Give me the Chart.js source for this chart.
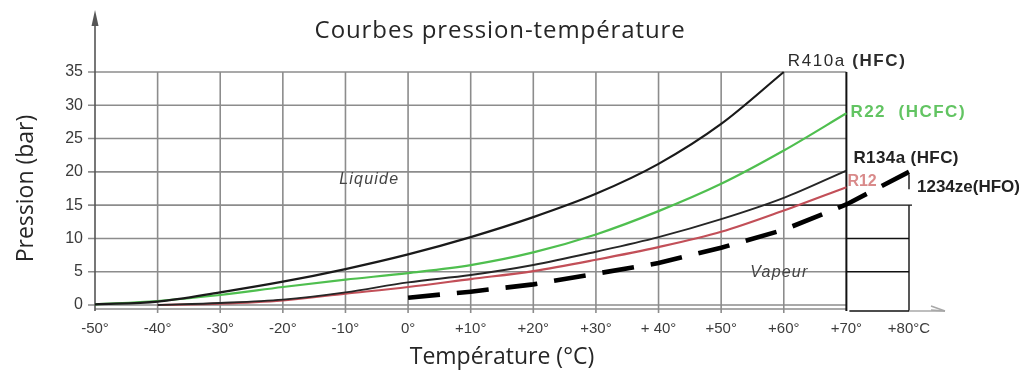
<!DOCTYPE html>
<html lang="fr">
<head>
  <meta charset="UTF-8">
  <title>Courbes pression-température</title>
  <script src="https://cdn.jsdelivr.net/npm/chart.js"></script>
  <style>
    html, body { margin: 0; padding: 0; background: #fff; }
    #wrap { width: 1026px; height: 380px; }
  </style>
</head>
<body>
  <div id="wrap"><canvas id="graphique" width="1026" height="380"></canvas></div>

  <script>
    // axe des températures (°C)
    const temperatures = [-50, -40, -30, -20, -10, 0, 10, 20, 30, 40, 50, 60, 70, 80];
    const xTickLabels = ['-50°', '-40°', '-30°', '-20°', '-10°', '0°', '+10°', '+20°', '+30°', '+ 40°', '+50°', '+60°', '+70°', '+80°C'];
    const gridTemps = [-40, -30, -20, -10, 0, 10, 20, 30, 40, 50, 60];
    const pressureTicks = [0, 5, 10, 15, 20, 25, 30, 35];

    // pressions (bar)
    const r410a   = [0.1, 0.5, 1.9, 3.5, 5.4, 7.6, 10.2, 13.2, 16.7, 21.2, 27.2, 35.0, null, null];
    const r22     = [0.1, 0.6, 1.5, 2.7, 3.8, 4.8, 6.0, 7.9, 10.6, 14.1, 18.2, 23.2, 28.8, null];
    const r134a   = [null, 0.0, 0.3, 0.8, 1.9, 3.4, 4.5, 6.0, 8.0, 10.2, 12.9, 16.1, 20.2, null];
    const r12     = [null, 0.0, 0.2, 0.7, 1.7, 2.7, 3.9, 5.1, 6.8, 8.7, 11.0, 14.2, 17.7, null];
    const r1234ze = [null, null, null, null, null, 1.1, 2.0, 3.1, 4.7, 6.3, 8.6, 11.3, 15.1, 20.0];

    function points(values) {
      return temperatures.map((t, i) => ({ x: t, y: values[i] })).filter(p => p.y !== null);
    }

    const labelFont = '"Liberation Sans", Arial, sans-serif';
    const titleFont = '"Open Sans", sans-serif';

    const decor = {
      id: 'decor',
      beforeDatasetsDraw(chart) {
        const { ctx, scales: { x, y } } = chart;
        const X = v => x.getPixelForValue(v), Y = v => y.getPixelForValue(v);
        const seg = (x1, y1, x2, y2) => { ctx.beginPath(); ctx.moveTo(x1, y1); ctx.lineTo(x2, y2); ctx.stroke(); };
        ctx.save();

        // quadrillage gris
        ctx.strokeStyle = '#8c8c8c';
        ctx.lineWidth = 1.6;
        gridTemps.forEach(t => seg(X(t), Y(35), X(t), Y(0) + 8));
        pressureTicks.forEach(p => seg(X(-50) - 7, Y(p), X(70), Y(p)));
        seg(X(-50), Y(0) + 4, X(70), Y(0) + 4);

        // cadre noir 70-80 °C
        ctx.strokeStyle = '#111';
        ctx.lineWidth = 2;
        seg(X(70), Y(35), X(70), Y(0) + 6);
        ctx.lineWidth = 1.4;
        seg(X(80), Y(15), X(80), Y(0) + 6);
        seg(X(80), Y(19.6), X(80), Y(17.4));
        seg(X(57), Y(15), X(80) + 3, Y(15));
        [10, 5].forEach(p => seg(X(70), Y(p), X(80), Y(p)));
        seg(X(70) + 3, Y(0) + 6, X(80), Y(0) + 6);

        // flèche de l'axe x
        ctx.strokeStyle = '#a8a8a8';
        ctx.lineWidth = 1.5;
        seg(X(80), Y(0) + 6, X(80) + 36, Y(0) + 6);
        seg(X(80) + 22, Y(0) + 1, X(80) + 36, Y(0) + 6);
        seg(X(80) + 22, Y(0) + 5, X(80) + 36, Y(0) + 6);

        // axe y avec flèche
        ctx.strokeStyle = '#555';
        ctx.lineWidth = 1.6;
        seg(X(-50), Y(0) + 6, X(-50), 16);
        ctx.fillStyle = '#555';
        ctx.beginPath();
        ctx.moveTo(X(-50), 10);
        ctx.lineTo(X(-50) - 3.5, 26);
        ctx.lineTo(X(-50) + 3.5, 26);
        ctx.closePath();
        ctx.fill();
        ctx.restore();
      },
      afterDraw(chart) {
        const { ctx, scales: { x, y } } = chart;
        const X = v => x.getPixelForValue(v), Y = v => y.getPixelForValue(v);
        const end = i => { const d = chart.getDatasetMeta(i).data; return d[d.length - 1]; };
        const spacing = s => { if ('letterSpacing' in ctx) ctx.letterSpacing = s + 'px'; };
        const two = (a, b, px, py, color, fa, fb, ls) => {
          spacing(ls);
          ctx.fillStyle = color;
          ctx.font = fa;
          ctx.fillText(a, px, py);
          const w = ctx.measureText(a).width;
          ctx.font = fb;
          ctx.fillText(b, px + w, py);
        };
        ctx.save();
        ctx.textBaseline = 'middle';

        // titre
        spacing(0.9);
        ctx.fillStyle = '#262626';
        ctx.font = '24px ' + titleFont;
        ctx.textAlign = 'center';
        ctx.fillText('Courbes pression-température', X(14.7), 31);
        ctx.textAlign = 'left';

        const b17 = 'bold 17px ' + labelFont;
        let p = end(0);
        two('R410a ', '(HFC)', p.x + 4, p.y - 11, '#2b2b2b', '17px ' + labelFont, b17, 1.6);
        p = end(1);
        two('R22  ', '(HCFC)', p.x + 4, p.y - 1, '#62c462', b17, b17, 1.5);
        p = end(2);
        two('R134a ', '(HFC)', p.x + 7, p.y - 12, '#222', b17, b17, 0.4);
        p = end(3);
        two('R12', '', p.x + 1, p.y - 6, '#d98a8a', 'bold 16px ' + labelFont, b17, 0);
        p = end(4);
        two('1234ze(HFO)', '', p.x + 8, p.y + 15, '#222', b17, b17, 0);

        // zones
        spacing(1.2);
        ctx.fillStyle = '#444';
        ctx.font = 'italic 16px ' + labelFont;
        ctx.textAlign = 'center';
        ctx.fillText('Liquide', X(-6.2), Y(18.8));
        ctx.fillText('Vapeur', X(59.3), Y(4.8));
        spacing(0);
        ctx.restore();
      }
    };

    const ctx = document.getElementById('graphique').getContext('2d');
    const courbe = (label, values, color, width) => ({
      label: label,
      data: points(values),
      borderColor: color,
      borderWidth: width,
      pointRadius: 0,
      cubicInterpolationMode: 'monotone',
      fill: false,
      clip: false
    });

    const graphique = new Chart(ctx, {
      type: 'line',
      data: {
        datasets: [
          courbe('R410a (HFC)', r410a, '#1a1a1a', 2.2),
          courbe('R22 (HCFC)', r22, '#4fbf4f', 2.2),
          courbe('R134a (HFC)', r134a, '#262626', 1.9),
          courbe('R12', r12, '#c24f58', 2.2),
          Object.assign(courbe('1234ze(HFO)', r1234ze, '#000', 4.6), { borderDash: [32, 17], cubicInterpolationMode: 'default', tension: 0 })
        ]
      },
      options: {
        responsive: false,
        animation: false,
        devicePixelRatio: 1,
        layout: { padding: { top: 72, right: 117, bottom: 0, left: 0 } },
        plugins: {
          legend: { display: false },
          tooltip: { enabled: false },
          title: { display: false }
        },
        scales: {
          x: {
            type: 'linear',
            min: -50,
            max: 80,
            grid: { display: false, drawTicks: false },
            border: { display: false },
            afterFit: s => { s.height = 75; },
            ticks: {
              stepSize: 10,
              padding: 15,
              color: '#3c3c3c',
              font: { family: labelFont, size: 15 },
              callback: (v, i) => xTickLabels[i]
            },
            title: {
              display: true,
              text: 'Température (°C)',
              color: '#262626',
              font: { family: titleFont, size: 23 },
              padding: { top: 0, bottom: 9 }
            }
          },
          y: {
            min: 0,
            max: 35,
            grid: { display: false, drawTicks: false },
            border: { display: false },
            afterFit: s => { s.width = 95; },
            ticks: {
              stepSize: 5,
              padding: 12,
              color: '#3a3a3a',
              font: { family: labelFont, size: 16 }
            },
            title: {
              display: true,
              text: 'Pression (bar)',
              color: '#262626',
              font: { family: titleFont, size: 23 },
              padding: { top: 13, bottom: 0 }
            }
          }
        }
      },
      plugins: [decor]
    });
  </script>
</body>
</html>
